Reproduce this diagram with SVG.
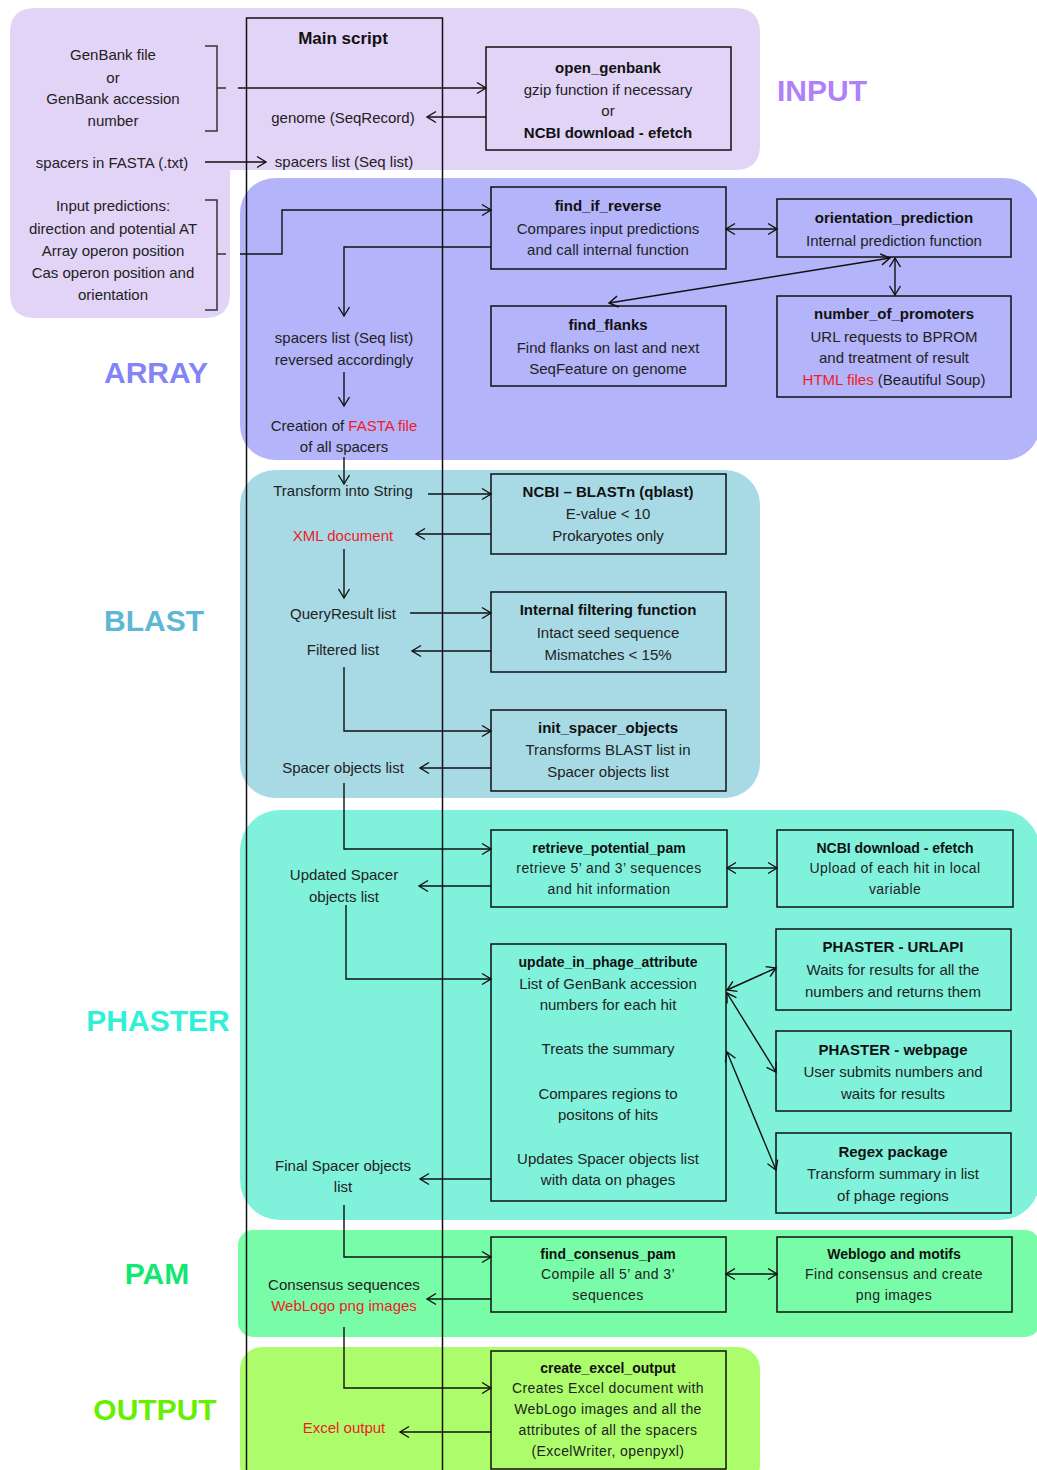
<svg xmlns="http://www.w3.org/2000/svg" width="1037" height="1470" viewBox="0 0 1037 1470">
<defs>
<style>
text{font-family:"Liberation Sans",Arial,sans-serif;dominant-baseline:central;text-anchor:middle}
.t{font-size:15px;fill:#222}
.b{font-size:15px;font-weight:bold;fill:#111}
.s{font-size:14px;fill:#222;letter-spacing:0.4px}
.sb{font-size:14px;font-weight:bold;fill:#111}
.r{fill:#ee1c25}
.lab{font-size:30px;font-weight:bold}
.box{fill:none;stroke:#111;stroke-width:1.5}
.c{fill:none;stroke:#111;stroke-width:1.4}
.br{fill:none;stroke:#333;stroke-width:1.5}
</style>
<marker id="a" markerUnits="userSpaceOnUse" markerWidth="14" markerHeight="14" refX="11" refY="7" orient="auto-start-reverse">
<path d="M2,1.5 L11,7 L2,12.5" fill="none" stroke="#111" stroke-width="1.4"/>
</marker>
</defs>

<g id="regions">
<path d="M35,8 H735 Q760,8 760,33 V145 Q760,170 735,170 H230 V293 Q230,318 205,318 H35 Q10,318 10,293 V33 Q10,8 35,8 Z" fill="#E1D4F7"/>
<rect x="240" y="178" width="800" height="282" rx="35" fill="#B4B4FA"/>
<rect x="240" y="470" width="520" height="328" rx="35" fill="#A8DAE6"/>
<rect x="240" y="810" width="800" height="410" rx="40" fill="#80F2DC"/>
<rect x="238" y="1230" width="802" height="107" rx="15" fill="#78FCA8"/>
<rect x="240" y="1347" width="520" height="140" rx="22" fill="#ACFC6C"/>
<text class="lab" x="822" y="90" fill="#B07FFA">INPUT</text>
<text class="lab" x="156" y="372" fill="#8484F6">ARRAY</text>
<text class="lab" x="154" y="620" fill="#5CB8D4">BLAST</text>
<text class="lab" x="158" y="1020" fill="#30F0D8">PHASTER</text>
<text class="lab" x="157" y="1273" fill="#10E870">PAM</text>
<text class="lab" x="155" y="1409" fill="#66F000">OUTPUT</text>
</g>

<g id="main-script">
<rect class="box" x="246.5" y="18" width="196" height="1470"/>
<text x="343" y="38" style="font-size:17px;font-weight:bold;fill:#111">Main script</text>
<text class="t" x="343" y="117">genome (SeqRecord)</text>
<text class="t" x="344" y="161">spacers list (Seq list)</text>
<text class="t" x="344" y="337">spacers list (Seq list)</text>
<text class="t" x="344" y="359">reversed accordingly</text>
<text class="t" x="344" y="425">Creation of <tspan class="r">FASTA file</tspan></text>
<text class="t" x="344" y="446">of all spacers</text>
<text class="t" x="343" y="490">Transform into String</text>
<text class="t r" x="343" y="535">XML document</text>
<text class="t" x="343" y="613">QueryResult list</text>
<text class="t" x="343" y="649">Filtered list</text>
<text class="t" x="343" y="767">Spacer objects list</text>
<text class="t" x="344" y="874">Updated Spacer</text>
<text class="t" x="344" y="896">objects list</text>
<text class="t" x="343" y="1165">Final Spacer objects</text>
<text class="t" x="343" y="1186">list</text>
<text class="t" x="344" y="1284">Consensus sequences</text>
<text class="t r" x="344" y="1305">WebLogo png images</text>
<text class="t r" x="344" y="1427">Excel output</text>
</g>

<g id="inputs">
<text class="t" x="113" y="54">GenBank file</text>
<text class="t" x="113" y="77">or</text>
<text class="t" x="113" y="98">GenBank accession</text>
<text class="t" x="113" y="120">number</text>
<text class="t" x="112" y="162">spacers in FASTA (.txt)</text>
<text class="t" x="113" y="205">Input predictions:</text>
<text class="t" x="113" y="228">direction and potential AT</text>
<text class="t" x="113" y="250">Array operon position</text>
<text class="t" x="113" y="272">Cas operon position and</text>
<text class="t" x="113" y="294">orientation</text>
<path class="br" d="M205,46 H217 V131 H205 M217,88 H226"/>
<path class="br" d="M205,200 H217 V310 H205 M217,254 H226"/>
</g>

<g id="open_genbank">
<rect class="box" x="486" y="47" width="245" height="103"/>
<text class="b" x="608" y="67">open_genbank</text>
<text class="t" x="608" y="89">gzip function if necessary</text>
<text class="t" x="608" y="110">or</text>
<text class="b" x="608" y="132">NCBI download  -  efetch</text>
</g>

<g id="find_if_reverse">
<rect class="box" x="491" y="187" width="235" height="82"/>
<text class="b" x="608" y="205">find_if_reverse</text>
<text class="t" x="608" y="228">Compares input predictions</text>
<text class="t" x="608" y="249">and call internal function</text>
</g>

<g id="orientation_prediction">
<rect class="box" x="777" y="199" width="234" height="58"/>
<text class="b" x="894" y="217">orientation_prediction</text>
<text class="t" x="894" y="240">Internal prediction function</text>
</g>

<g id="find_flanks">
<rect class="box" x="491" y="306" width="235" height="80"/>
<text class="b" x="608" y="324">find_flanks</text>
<text class="t" x="608" y="347">Find flanks on last and next</text>
<text class="t" x="608" y="368">SeqFeature on genome</text>
</g>

<g id="number_of_promoters">
<rect class="box" x="777" y="296" width="234" height="101"/>
<text class="b" x="894" y="313">number_of_promoters</text>
<text class="t" x="894" y="336">URL requests to BPROM</text>
<text class="t" x="894" y="357">and treatment of result</text>
<text class="t" x="894" y="379"><tspan class="r">HTML files</tspan> (Beautiful Soup)</text>
</g>

<g id="blastn">
<rect class="box" x="491" y="474" width="235" height="80"/>
<text class="b" x="608" y="491">NCBI – BLASTn (qblast)</text>
<text class="t" x="608" y="513">E-value &lt; 10</text>
<text class="t" x="608" y="535">Prokaryotes only</text>
</g>

<g id="internal_filtering">
<rect class="box" x="491" y="592" width="235" height="80"/>
<text class="b" x="608" y="609">Internal  filtering function</text>
<text class="t" x="608" y="632">Intact seed sequence</text>
<text class="t" x="608" y="654">Mismatches &lt; 15%</text>
</g>

<g id="init_spacer_objects">
<rect class="box" x="491" y="710" width="235" height="81"/>
<text class="b" x="608" y="727">init_spacer_objects</text>
<text class="t" x="608" y="749">Transforms BLAST list in</text>
<text class="t" x="608" y="771">Spacer objects list</text>
</g>

<g id="retrieve_potential_pam">
<rect class="box" x="491" y="830" width="236" height="77"/>
<text class="sb" x="609" y="848">retrieve_potential_pam</text>
<text class="s" x="609" y="868">retrieve 5’ and 3’ sequences</text>
<text class="s" x="609" y="889">and hit information</text>
</g>

<g id="ncbi_efetch">
<rect class="box" x="777" y="830" width="236" height="77"/>
<text class="sb" x="895" y="848">NCBI download  - efetch</text>
<text class="s" x="895" y="868">Upload of each hit in local</text>
<text class="s" x="895" y="889">variable</text>
</g>

<g id="update_in_phage_attribute">
<rect class="box" x="491" y="944" width="235" height="257"/>
<text class="sb" x="608" y="962">update_in_phage_attribute</text>
<text class="t" x="608" y="983">List of GenBank accession</text>
<text class="t" x="608" y="1004">numbers for each hit</text>
<text class="t" x="608" y="1048">Treats the summary</text>
<text class="t" x="608" y="1093">Compares regions to</text>
<text class="t" x="608" y="1114">positons of hits</text>
<text class="t" x="608" y="1158">Updates Spacer objects list</text>
<text class="t" x="608" y="1179">with data on phages</text>
</g>

<g id="phaster_urlapi">
<rect class="box" x="776" y="929" width="235" height="81"/>
<text class="b" x="893" y="946">PHASTER - URLAPI</text>
<text class="t" x="893" y="969">Waits for results for all the</text>
<text class="t" x="893" y="991">numbers and returns them</text>
</g>

<g id="phaster_webpage">
<rect class="box" x="776" y="1031" width="235" height="80"/>
<text class="b" x="893" y="1049">PHASTER - webpage</text>
<text class="t" x="893" y="1071">User submits numbers and</text>
<text class="t" x="893" y="1093">waits for results</text>
</g>

<g id="regex_package">
<rect class="box" x="776" y="1133" width="235" height="80"/>
<text class="b" x="893" y="1151">Regex package</text>
<text class="t" x="893" y="1173">Transform summary in list</text>
<text class="t" x="893" y="1195">of phage regions</text>
</g>

<g id="find_consenus_pam">
<rect class="box" x="491" y="1237" width="235" height="75"/>
<text class="sb" x="608" y="1254">find_consenus_pam</text>
<text class="s" x="608" y="1274">Compile all 5’ and 3’</text>
<text class="s" x="608" y="1295">sequences</text>
</g>

<g id="weblogo">
<rect class="box" x="777" y="1237" width="235" height="75"/>
<text class="sb" x="894" y="1254">Weblogo and motifs</text>
<text class="s" x="894" y="1274">Find consensus and create</text>
<text class="s" x="894" y="1295">png images</text>
</g>

<g id="create_excel_output">
<rect class="box" x="491" y="1351" width="235" height="118"/>
<text class="sb" x="608" y="1368">create_excel_output</text>
<text class="s" x="608" y="1388">Creates Excel document with</text>
<text class="s" x="608" y="1409">WebLogo images and all the</text>
<text class="s" x="608" y="1430">attributes of all the spacers</text>
<text class="s" x="608" y="1451">(ExcelWriter, openpyxl)</text>
</g>

<g id="connectors">
<path class="c" d="M238,88 H486" marker-end="url(#a)"/>
<path class="c" d="M486,117 H427" marker-end="url(#a)"/>
<path class="c" d="M205,162 H266" marker-end="url(#a)"/>
<path class="c" d="M240,254 H282 V210 H491" marker-end="url(#a)"/>
<path class="c" d="M491,247 H344 V316" marker-end="url(#a)"/>
<path class="c" d="M344,372 V406" marker-end="url(#a)"/>
<path class="c" d="M344,457 V484" marker-end="url(#a)"/>
<path class="c" d="M428,494 H491" marker-end="url(#a)"/>
<path class="c" d="M491,534 H416" marker-end="url(#a)"/>
<path class="c" d="M344,549 V598" marker-end="url(#a)"/>
<path class="c" d="M410,613 H491" marker-end="url(#a)"/>
<path class="c" d="M491,651 H412" marker-end="url(#a)"/>
<path class="c" d="M344,667 V731 H491" marker-end="url(#a)"/>
<path class="c" d="M491,768 H420" marker-end="url(#a)"/>
<path class="c" d="M344,783 V849 H491" marker-end="url(#a)"/>
<path class="c" d="M491,886 H419" marker-end="url(#a)"/>
<path class="c" d="M346,905 V979 H491" marker-end="url(#a)"/>
<path class="c" d="M491,1179 H420" marker-end="url(#a)"/>
<path class="c" d="M344,1205 V1257 H491" marker-end="url(#a)"/>
<path class="c" d="M491,1299 H427" marker-end="url(#a)"/>
<path class="c" d="M344,1327 V1388 H491" marker-end="url(#a)"/>
<path class="c" d="M491,1432 H400" marker-end="url(#a)"/>
<path class="c" d="M726,229 H777" marker-start="url(#a)" marker-end="url(#a)"/>
<path class="c" d="M609,303 L890,258" marker-start="url(#a)" marker-end="url(#a)"/>
<path class="c" d="M895,258 V295" marker-start="url(#a)" marker-end="url(#a)"/>
<path class="c" d="M727,868 H777" marker-start="url(#a)" marker-end="url(#a)"/>
<path class="c" d="M727,990 L776,968" marker-start="url(#a)" marker-end="url(#a)"/>
<path class="c" d="M727,993 L776,1072" marker-start="url(#a)" marker-end="url(#a)"/>
<path class="c" d="M727,1052 L776,1170" marker-start="url(#a)" marker-end="url(#a)"/>
<path class="c" d="M726,1274 H777" marker-start="url(#a)" marker-end="url(#a)"/>
</g>
</svg>
